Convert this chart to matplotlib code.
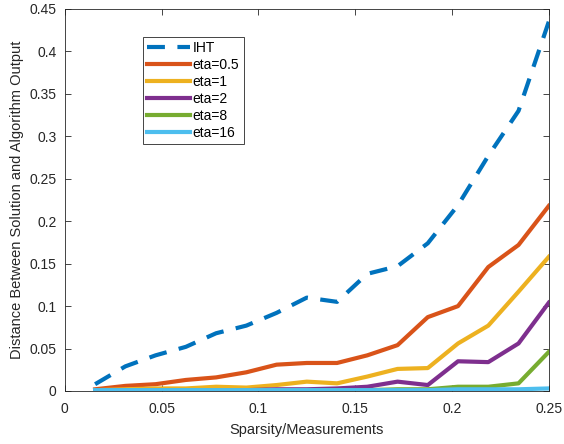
import matplotlib.pyplot as plt
import numpy as np

plt.rcParams['font.family'] = ['Liberation Sans', 'DejaVu Sans']

# sparsity / measurements, k/64
sparsity = np.arange(1, 17) / 64.0

iht = [0.008, 0.029, 0.042, 0.052, 0.068, 0.077, 0.092, 0.110, 0.105, 0.138,
       0.147, 0.174, 0.219, 0.277, 0.330, 0.435]
eta_05 = [0.002, 0.006, 0.008, 0.013, 0.016, 0.022, 0.031, 0.033, 0.033, 0.042,
          0.054, 0.087, 0.100, 0.146, 0.172, 0.218]
eta_1 = [0.001, 0.002, 0.003, 0.003, 0.005, 0.004, 0.007, 0.011, 0.009, 0.017,
         0.026, 0.027, 0.056, 0.077, 0.117, 0.158]
eta_2 = [0.001, 0.001, 0.001, 0.001, 0.001, 0.001, 0.002, 0.002, 0.003, 0.005,
         0.011, 0.007, 0.035, 0.034, 0.056, 0.104]
eta_8 = [0.001, 0.001, 0.001, 0.001, 0.001, 0.001, 0.001, 0.001, 0.001, 0.001,
         0.002, 0.002, 0.005, 0.005, 0.009, 0.046]
eta_16 = [0.001, 0.001, 0.001, 0.001, 0.001, 0.001, 0.001, 0.001, 0.001, 0.001,
          0.001, 0.001, 0.002, 0.002, 0.002, 0.003]

labels = ['IHT', 'eta=0.5', 'eta=1', 'eta=2', 'eta=8', 'eta=16']
colors = ['#0072BD', '#D95319', '#EDB120', '#7E2F8E', '#77AC30', '#4DBEEE']

fig = plt.figure(figsize=(5.64, 4.44), dpi=100)
ax = fig.add_axes([0.115, 0.1194, 0.858, 0.8604])

ax.plot(sparsity, iht, color=colors[0], lw=3, dashes=(4.3, 3), label=labels[0])
for ys, c, lab in zip([eta_05, eta_1, eta_2, eta_8, eta_16], colors[1:], labels[1:]):
    ax.plot(sparsity, ys, color=c, lw=3, label=lab)

ax.set_xlim(0, 0.25)
ax.set_ylim(0, 0.45)
ax.set_xticks([0, 0.05, 0.1, 0.15, 0.2, 0.25])
ax.set_xticklabels(['0', '0.05', '0.1', '0.15', '0.2', '0.25'])
ax.set_yticks(np.arange(0, 0.451, 0.05))
ax.set_yticklabels(['0', '0.05', '0.1', '0.15', '0.2', '0.25', '0.3', '0.35', '0.4', '0.45'])
ax.tick_params(direction='in', top=True, right=True, length=4, width=0.6,
               colors='#262626', labelsize=10, labelcolor='#262626')
ax.tick_params(axis='x', pad=8)
ax.tick_params(axis='y', pad=6)
for s in ax.spines.values():
    s.set_color('#262626')
    s.set_linewidth(0.6)

ax.set_xlabel('Sparsity/Measurements', fontsize=10.5, color='#262626', labelpad=5)
ax.set_ylabel('Distance Between Solution and Algorithm Output', fontsize=10.5,
              color='#262626', labelpad=4)

leg = ax.legend(loc='upper left', bbox_to_anchor=(0.161, 0.927), borderaxespad=0,
                fontsize=10, handlelength=3.1, handletextpad=0.2, labelspacing=0.22,
                fancybox=False, framealpha=1, edgecolor='#262626', borderpad=0.3)
leg.get_frame().set_linewidth(0.6)

fig.savefig('out.png', dpi=100)
